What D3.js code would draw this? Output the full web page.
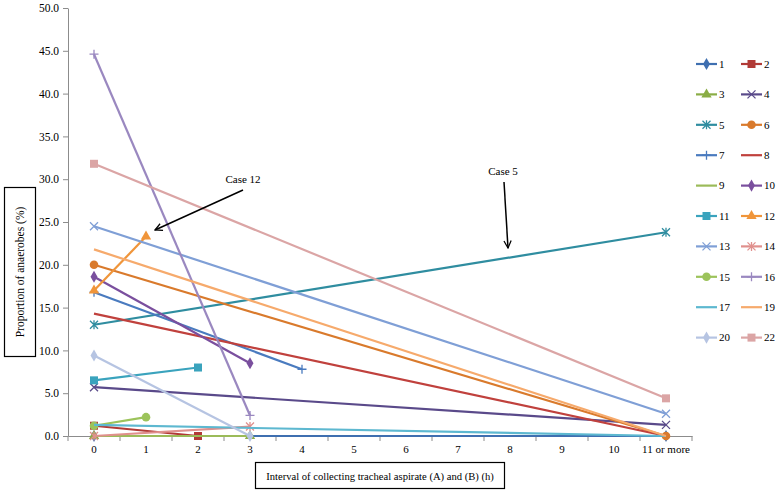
<!DOCTYPE html>
<html><head><meta charset="utf-8">
<script src="https://cdn.jsdelivr.net/npm/d3@7"></script>
<style>body{margin:0;background:#fff} text{font-family:"Liberation Serif","Times New Roman",serif;fill:#000}</style>
</head><body><svg id="c" width="778" height="491"></svg>
<script>
const categories = ["0","1","2","3","4","5","6","7","8","9","10","11 or more"];
const yTicks = [0,5,10,15,20,25,30,35,40,45,50];
const seriesNames = ["1","2","3","4","5","6","7","8","9","10","11","12","13","14","15","16","17","19","20","22"];
const seriesX = [
  ["0","11 or more"],["0","2"],["0","3"],["0","11 or more"],["0","11 or more"],
  ["0","11 or more"],["0","4"],["0","11 or more"],["0","3"],["0","3"],
  ["0","2"],["0","1"],["0","11 or more"],["0","3"],["0","1"],
  ["0","3"],["0","11 or more"],["0","11 or more"],["0","3"],["0","11 or more"]
];
const seriesY = [
  [0,0],[1.2,0],[0,0],[5.7,1.3],[13.0,23.8],
  [20.0,0],[16.8,7.8],[14.3,0],[0,0],[18.6,8.5],
  [6.5,8.0],[17.0,23.3],[24.5,2.6],[0,1.1],[1.2,2.2],
  [44.6,2.4],[1.3,0],[21.8,0],[9.4,0],[31.8,4.4]
];
const seriesColors = ["#3f6fb0","#b13a36","#8aad45","#5a4a8a","#2f8da0","#d97a2c","#4a7bbf","#c0413d","#9bbb59","#7a4f9e",
  "#3aa3bd","#f0953a","#7f9fd6","#e0908d","#9cc35b","#9a88c0","#5db8d0","#f6aa6c","#b6c4e2","#dba5a5"];
const seriesMarkers = ["diamond","square","triangle","x","asterisk","circle","plus","none","none","diamond",
  "square","triangle","x","asterisk","circle","plus","none","none","diamond","square"];
const yTitle = "Proportion of anaerobes (%)";
const xTitle = "Interval of collecting tracheal aspirate (A) and (B) (h)";
const annotations = [
  {text:"Case 12", tx:243, ty:183, x1:243, y1:190, x2:155, y2:230},
  {text:"Case 5", tx:503, ty:175, x1:504, y1:182, x2:508, y2:248}
];

const svg = d3.select("#c");
const x = d3.scaleBand().domain(categories).range([68, 692]);
const cx = c => x(c) + x.bandwidth()/2;
const y = d3.scaleLinear().domain([0,50]).range([436, 8]);
const axisColor = "#8c8c8c";

// Axis titles (boxes)
svg.append("rect").attr("x",4.5).attr("y",187.5).attr("width",31).attr("height",169).attr("fill","#fff").attr("stroke","#000").attr("stroke-width",1.2);
svg.append("text").attr("transform","translate(20,272) rotate(-90)").attr("text-anchor","middle").attr("dy","0.35em").attr("font-size","11.5px").text(yTitle);
svg.append("rect").attr("x",255.5).attr("y",462.5).attr("width",249).attr("height",26).attr("fill","#fff").attr("stroke","#000").attr("stroke-width",1.2);
svg.append("text").attr("x",380).attr("y",476).attr("text-anchor","middle").attr("dy","0.35em").attr("font-size","10.6px").text(xTitle);

// Y axis
const ya = svg.append("g").attr("transform","translate(68,0)")
  .call(d3.axisLeft(y).tickValues(yTicks).tickFormat(d3.format(".1f")).tickSize(5).tickSizeOuter(0));
ya.select(".domain").attr("stroke",axisColor);
ya.selectAll(".tick line").attr("stroke",axisColor);
ya.selectAll(".tick text").attr("font-size","11.5px").attr("x",-9).style("font-family","Liberation Serif");

// X axis
const xa = svg.append("g").attr("transform","translate(0,436)")
  .call(d3.axisBottom(x).tickSize(0).tickSizeOuter(0).tickPadding(9));
xa.select(".domain").attr("stroke",axisColor);
xa.selectAll(".tick text").attr("font-size","11px").style("font-family","Liberation Serif");
const bounds = categories.map(c => x(c)).concat([x(categories[categories.length-1]) + x.step()]);
svg.append("g").selectAll("line").data(bounds).join("line")
  .attr("x1",d=>d).attr("x2",d=>d).attr("y1",436).attr("y2",441).attr("stroke",axisColor);

function drawMarker(g, type, px, py, color){
  const s = 4;
  if (type === "diamond") g.append("path").attr("d", d3.symbol().type(d3.symbolDiamond).size(42)()).attr("transform",`translate(${px},${py})`).attr("fill",color);
  else if (type === "square") g.append("rect").attr("x",px-4).attr("y",py-4).attr("width",8).attr("height",8).attr("fill",color);
  else if (type === "triangle") g.append("path").attr("d", d3.symbol().type(d3.symbolTriangle).size(46)()).attr("transform",`translate(${px},${py})`).attr("fill",color);
  else if (type === "circle") g.append("circle").attr("cx",px).attr("cy",py).attr("r",4.3).attr("fill",color);
  else if (type === "x" || type === "asterisk" || type === "plus") {
    let d = "";
    if (type !== "plus") d += `M${px-s},${py-s}L${px+s},${py+s}M${px-s},${py+s}L${px+s},${py-s}`;
    if (type === "asterisk" || type === "plus") d += `M${px},${py-s-0.5}L${px},${py+s+0.5}`;
    if (type === "plus") d += `M${px-s-0.5},${py}L${px+s+0.5},${py}`;
    g.append("path").attr("d", d).attr("stroke",color).attr("stroke-width",1.3).attr("fill","none");
  }
}

// Series
const line = d3.line();
seriesNames.forEach((name,i) => {
  const g = svg.append("g");
  const pts = seriesX[i].map((c,j) => [cx(c), y(seriesY[i][j])]);
  g.append("path").attr("d", line(pts)).attr("fill","none").attr("stroke",seriesColors[i]).attr("stroke-width",2.2);
  pts.forEach(p => drawMarker(g, seriesMarkers[i], p[0], p[1], seriesColors[i]));
});

// Legend
const lg = svg.append("g");
seriesNames.forEach((name,i) => {
  const col = i % 2, row = Math.floor(i/2);
  const lx = col === 0 ? 696 : 741;
  const ly = 64 + 30.4*row;
  lg.append("line").attr("x1",lx).attr("x2",lx+21).attr("y1",ly).attr("y2",ly).attr("stroke",seriesColors[i]).attr("stroke-width",2.2);
  drawMarker(lg, seriesMarkers[i], lx+10.5, ly, seriesColors[i]);
  lg.append("text").attr("x",lx+23).attr("y",ly).attr("dy","0.35em").attr("font-size","11px").text(name);
});

// Annotations
const defs = svg.append("defs");
defs.append("marker").attr("id","arr").attr("viewBox","0 0 10 10").attr("refX",9).attr("refY",5)
  .attr("markerWidth",9).attr("markerHeight",9).attr("markerUnits","userSpaceOnUse").attr("orient","auto")
  .append("path").attr("d","M1,1L9,5L1,9").attr("fill","none").attr("stroke","#000").attr("stroke-width",1.4);
annotations.forEach(a => {
  svg.append("text").attr("x",a.tx).attr("y",a.ty).attr("text-anchor","middle").attr("font-size","11px").text(a.text);
  svg.append("line").attr("x1",a.x1).attr("y1",a.y1).attr("x2",a.x2).attr("y2",a.y2).attr("stroke","#000").attr("stroke-width",1.5).attr("marker-end","url(#arr)");
});
</script></body></html>
